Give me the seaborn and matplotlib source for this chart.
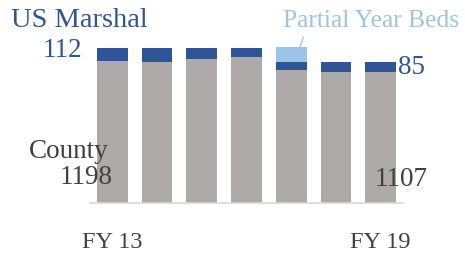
import matplotlib
matplotlib.use("Agg")
import matplotlib.pyplot as plt
import seaborn as sns
import pandas as pd
from matplotlib.lines import Line2D

# ---- data ----
years = ["FY 13", "FY 14", "FY 15", "FY 16", "FY 17", "FY 18", "FY 19"]
county = [1198, 1195, 1217, 1232, 1124, 1110, 1107]
us_marshal = [112, 115, 95, 80, 68, 82, 85]
partial_year = [0, 0, 0, 0, 125, 0, 0]
shown_ticks = ["FY 13", "", "", "", "", "", "FY 19"]

# ---- colors ----
GRAY = "#AEAAAA"
DARK = "#2F5597"
LIGHT = "#9DC3E6"
TXT = "#404040"

sns.set_theme(style="white")
plt.rcParams["font.family"] = ["Liberation Serif", "DejaVu Serif"]

df = pd.DataFrame({"year": years, "county": county,
                   "marshal": us_marshal, "partial": partial_year})
df["lvl2"] = df["county"] + df["marshal"]
df["lvl3"] = df["lvl2"] + df["partial"]

W, H = 465, 257
fig = plt.figure(figsize=(W / 100, H / 100), dpi=100)
ax = fig.add_axes([90 / W, 54.5 / H, 313 / W, 202.5 / H])

sns.barplot(data=df, x="year", y="lvl3", color=LIGHT, width=0.69,
            saturation=1, ax=ax, linewidth=0)
sns.barplot(data=df, x="year", y="lvl2", color=DARK, width=0.69,
            saturation=1, ax=ax, linewidth=0)
sns.barplot(data=df, x="year", y="county", color=GRAY, width=0.69,
            saturation=1, ax=ax, linewidth=0)

ax.set_xlim(-0.5, 6.5)
ax.set_ylim(0, 1718)
ax.set_xlabel("")
ax.set_ylabel("")
ax.set_yticks([])
ax.set_xticks(range(len(years)))
ax.set_xticklabels(shown_ticks, fontsize=17.5, color=TXT)
ax.tick_params(axis="x", length=0, pad=21)
for s in ["top", "left", "right"]:
    ax.spines[s].set_visible(False)
ax.spines["bottom"].set_color("#D9D9D9")
ax.spines["bottom"].set_linewidth(1.2)
ax.patch.set_alpha(0)


def ftext(px, py, s, **kw):
    fig.text(px / W, 1 - py / H, s, va="baseline", **kw)


ftext(11, 27.3, "US Marshal", fontsize=20.5, color=DARK, ha="left")
ftext(82.5, 57.3, str(us_marshal[0]), fontsize=19.5, color=DARK, ha="right")
ftext(398, 74, str(us_marshal[-1]), fontsize=19.5, color=DARK, ha="left")
ftext(109, 158.3, "County", fontsize=19.5, color=TXT, ha="right")
ftext(112.5, 184.5, str(county[0]), fontsize=19.5, color=TXT, ha="right")
ftext(374.5, 185.5, str(county[-1]), fontsize=19.5, color=TXT, ha="left")
ftext(282.5, 27.3, "Partial Year Beds", fontsize=18.4, color=LIGHT, ha="left")

fig.add_artist(Line2D([303.3 / W, 300 / W], [1 - 37.3 / H, 1 - 46.7 / H],
                      color=LIGHT, linewidth=0.9, transform=fig.transFigure))

fig.savefig("out.png", dpi=100)
